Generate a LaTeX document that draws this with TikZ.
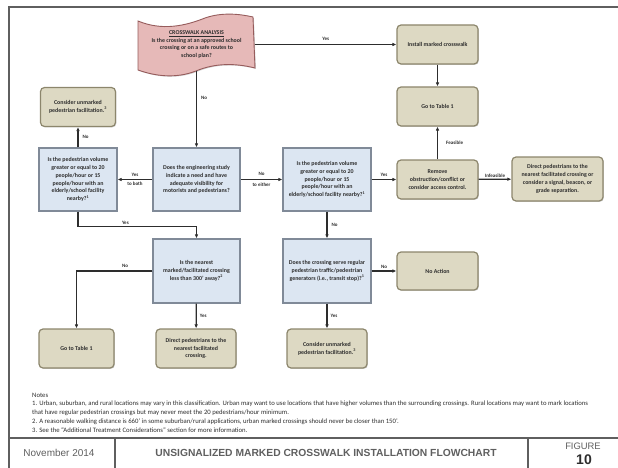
\documentclass[tikz,border=0pt]{standalone}
\usepackage{fontspec}
\setmainfont{Carlito}
\newfontfamily\arialfont{Liberation Sans}
\usetikzlibrary{shapes,arrows.meta,shadows}

\definecolor{tanfill}{RGB}{221,217,195}
\definecolor{tanline}{RGB}{140,134,108}
\definecolor{bluefill}{RGB}{220,230,242}
\definecolor{blueline}{RGB}{128,138,152}
\definecolor{pinkfill}{RGB}{230,185,184}
\definecolor{pinkline}{RGB}{150,92,92}
\definecolor{framegray}{RGB}{95,95,95}
\definecolor{inkgray}{RGB}{45,45,45}

\begin{document}
\begin{tikzpicture}[x=1pt,y=-1pt,
  every node/.style={font=\fontsize{5.9}{7.8}\selectfont\bfseries, text=inkgray, align=center, inner sep=0pt},
  sz/.style 2 args={minimum width=#1pt, minimum height=#2pt},
  answer/.style={rectangle, rounded corners=4pt, draw=tanline, line width=1.2pt, fill=tanfill,
    drop shadow={shadow xshift=0.9pt, shadow yshift=-0.9pt, opacity=0.35}},
  question/.style={rectangle, draw=blueline, line width=1.3pt, fill=bluefill,
    drop shadow={shadow xshift=0.9pt, shadow yshift=-0.9pt, opacity=0.35}},
  arr/.style={-{Latex[length=4pt,width=3.6pt]}, line width=1.3pt, draw=inkgray},
  lbl/.style={font=\fontsize{5}{6}\selectfont\bfseries},
]
\useasboundingbox (0,0) rectangle (618,468);

% frame and footer
\draw[framegray, line width=1.2pt] (9,468) -- (9,7) -- (618,7);
\draw[framegray, line width=1.2pt] (9,438) -- (618,438);
\draw[framegray, line width=1.2pt] (115,438) -- (115,468) (528,438) -- (528,468);

% start shape
\draw[fill=pinkfill, draw=pinkline, line width=0.9pt,
    drop shadow={shadow xshift=0.9pt, shadow yshift=-0.9pt, opacity=0.35}]
  (138,21) .. controls (162,31) and (185,26) .. (205,18)
  .. controls (222,12) and (240,14) .. (253,17) -- (255,68)
  .. controls (235,63) and (215,63) .. (196,71)
  .. controls (175,79) and (155,76) .. (138,70) -- cycle;
\node[sz={117}{56}] (analysis) at (196.5,44.5)
  {\underline{CROSSWALK ANALYSIS}\\Is the crossing at an approved school\\crossing or on a safe routes to\\school plan?};

\node[answer, sz={81}{39}] (install) at (437.5,44.5) {Install marked crosswalk};
\node[answer, sz={81}{39}] (tabletop) at (437.5,106.5) {Go to Table 1};
\node[answer, sz={81}{39}] (remove) at (437.5,179.5) {Remove\\obstruction/conflict or\\consider access control.};
\node[answer, sz={91}{44}] (directR) at (557.5,179) {Direct pedestrians to the\\nearest facilitated crossing or\\consider a signal, beacon, or\\grade separation.};
\node[answer, sz={75}{39}] (considerT) at (78,107) {Consider unmarked\\pedestrian facilitation.\textsuperscript{3}};

\node[question, sz={78}{63}] (volL) at (78,179.5) {Is the pedestrian volume\\greater or equal to 20\\people/hour or 15\\people/hour with an\\elderly/school facility\\nearby?\textsuperscript{1}};
\node[question, sz={87}{63}] (study) at (196.5,179.5) {Does the engineering study\\indicate a need and have\\adequate visibility for\\motorists and pedestrians?};
\node[question, sz={88}{63}] (volR) at (327,179.5) {Is the pedestrian volume\\greater or equal to 20\\people/hour or 15\\people/hour with an\\elderly/school facility nearby?\textsuperscript{1}};

\node[question, sz={87}{64}] (nearest) at (196.5,271) {Is the nearest\\marked/facilitated crossing\\less than 300' away?\textsuperscript{2}};
\node[question, sz={88}{64}] (serve) at (327,271) {Does the crossing serve regular\\pedestrian traffic/pedestrian\\generators (i.e., transit stop)?\textsuperscript{1}};
\node[answer, sz={81}{38}] (noaction) at (437.5,271) {No Action};

\node[answer, sz={75}{39}] (tableB) at (76.5,348.5) {Go to Table 1};
\node[answer, sz={80}{39}] (directB) at (196,348.5) {Direct pedestrians to the\\nearest facilitated\\crossing.};
\node[answer, sz={80}{39}] (considerB) at (327,348.5) {Consider unmarked\\pedestrian facilitation.\textsuperscript{3}};

% connectors
\draw[arr] (analysis.east) -- (install.west) node[lbl, midway, above=3pt] (l1) {Yes};
\draw[arr] (analysis.south |- 0,71) -- (study.north) node[lbl, pos=0.35, right=4pt] (l2) {No};
\draw[arr] (install) -- (tabletop);
\draw[arr] (remove) -- (tabletop) node[lbl, midway, right=8pt] (l3) {Feasible};
\draw[arr] (remove) -- (directR) node[lbl, midway, above=1.5pt] (l4) {Infeasible};
\draw[arr] (study) -- (volL) node[lbl, midway, above=2pt] (l5) {Yes} node[lbl, midway, below=2pt] (l6) {to both};
\draw[arr] (study) -- (volR) node[lbl, midway, above=3pt] (l7) {No} node[lbl, midway, below=2.5pt] (l8) {to either};
\draw[arr] (volR) -- (remove) node[lbl, midway, above=2pt] (l9) {Yes};
\draw[arr] (volL) -- (considerT) node[lbl, midway, right=4pt] (l10) {No};
\draw[arr] (volL.south) -- ++(0,15) -| (nearest.north) node[lbl, pos=0.2, above=1.5pt] (l11) {Yes};
\draw[arr] (nearest.west) -| (tableB.north) node[lbl, pos=0.18, above=2.5pt] (l12) {No};
\draw[arr] (nearest) -- (directB) node[lbl, midway, right=3pt] (l13) {Yes};
\draw[arr] (volR) -- (serve) node[lbl, midway, right=4pt] (l14) {No};
\draw[arr] (serve) -- (noaction) node[lbl, midway, above=2pt] (l15) {No};
\draw[arr] (serve) -- (considerB) node[lbl, midway, right=3pt] (l16) {Yes};

% notes
\begin{scope}[every node/.style={font=\fontsize{6.7}{7}\selectfont, text=inkgray, anchor=west, inner sep=0pt}]
\node (notes) at (32,395) {Notes};
\node (n1) at (32,404) {1. Urban, suburban, and rural locations may vary in this classification. Urban may want to use locations that have higher volumes than the surrounding crossings. Rural locations may want to mark locations};
\node (n1b) at (32,413) {that have regular pedestrian crossings but may never meet the 20 pedestrians/hour minimum.};
\node (n2) at (32,422) {2. A reasonable walking distance is 660' in some suburban/rural applications, urban marked crossings should never be closer than 150'.};
\node (n3) at (32,430.5) {3. See the ``Additional Treatment Considerations'' section for more information.};
\end{scope}

% footer
\node[font=\arialfont\fontsize{10}{11}\selectfont, text=framegray] (date) at (59,453) {November 2014};
\node[font=\arialfont\fontsize{10.3}{11}\selectfont\bfseries, text=framegray] (title) at (326,453) {UNSIGNALIZED MARKED CROSSWALK INSTALLATION FLOWCHART};
\node[font=\arialfont\fontsize{9.4}{11}\selectfont, text=framegray] (figure) at (583,446) {FIGURE};
\node[font=\arialfont\fontsize{14}{16}\selectfont\bfseries, text=inkgray] (fignum) at (584,460) {10};
\end{tikzpicture}
\end{document}
